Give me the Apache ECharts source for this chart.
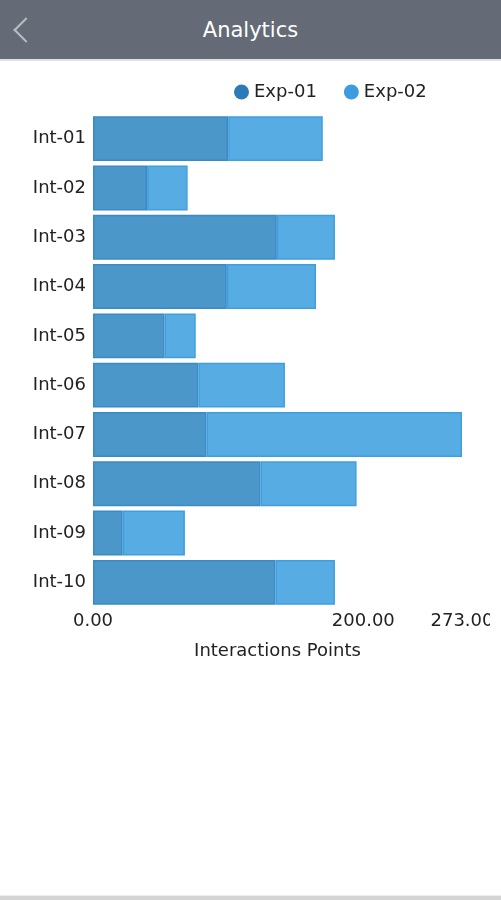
<!DOCTYPE html>
<html>
<head>
<meta charset="utf-8">
<script src="https://cdn.jsdelivr.net/npm/echarts@6/dist/echarts.min.js"></script>
<style>
  html, body { margin: 0; padding: 0; width: 501px; height: 900px; background: #fff; overflow: hidden; font-family: "DejaVu Sans", sans-serif; }
  #header { position: absolute; left: 0; top: 0; width: 501px; height: 59px; background: #646b76; border-bottom: 2px solid #dfe1e4; }
  #title { position: absolute; left: 0; width: 501px; top: 0; line-height: 60px; text-align: center; color: #fff; font-size: 21px; }
  #back { position: absolute; width: 16px; height: 16px; border-left: 2.5px solid #b9bdc3; border-bottom: 2.5px solid #b9bdc3; transform: rotate(45deg); left: 17px; top: 21px; }
  #clip { position: absolute; left: 0; top: 61px; width: 490px; height: 830px; overflow: hidden; }
  #chart { position: absolute; left: 0; top: 0; width: 501px; height: 830px; }
  #footer { position: absolute; left: 0; top: 895px; width: 501px; height: 5px; background: #d4d4d4; border-top: 1px solid #ececec; }
</style>
</head>
<body>
<div id="header"><div id="back"></div><div id="title">Analytics</div></div>
<div id="clip"><div id="chart"></div></div>
<div id="footer"></div>
<script>
const categories = ["Int-01","Int-02","Int-03","Int-04","Int-05","Int-06","Int-07","Int-08","Int-09","Int-10"];
const exp01 = [100, 40, 136, 99, 53, 78, 84, 124, 22, 135];
const exp02 = [70, 30, 43, 66, 23, 64, 189, 71, 46, 44];
const seriesNames = ["Exp-01", "Exp-02"];
const axisMax = 273;
const axisTitle = "Interactions Points";

const chart = echarts.init(document.getElementById('chart'), null, { renderer: 'canvas' });
const font = '"DejaVu Sans", sans-serif';
chart.setOption({
  animation: false,
  legend: {
    top: 17, left: 229,
    itemWidth: 15, itemHeight: 15, itemGap: 27,
    icon: 'circle',
    textStyle: { fontSize: 18, color: '#222', fontFamily: font },
    data: [
      { name: seriesNames[0], itemStyle: { color: '#2b7bb9', borderWidth: 0, opacity: 1 } },
      { name: seriesNames[1], itemStyle: { color: '#3d9be0', borderWidth: 0, opacity: 1 } }
    ]
  },
  grid: { left: 93, right: 39, top: 53, bottom: 284, containLabel: false },
  xAxis: {
    type: 'value', min: 0, max: axisMax, interval: 200,
    axisLine: { show: false }, axisTick: { show: false }, splitLine: { show: false },
    axisLabel: { fontSize: 18, color: '#222', fontFamily: font, margin: 5, formatter: v => v.toFixed(2), showMaxLabel: true },
    name: axisTitle, nameLocation: 'middle', nameGap: 35,
    nameTextStyle: { fontSize: 18, color: '#222', fontFamily: font }
  },
  yAxis: {
    type: 'category', data: categories, inverse: true,
    axisLine: { show: false }, axisTick: { show: false }, splitLine: { show: false },
    axisLabel: { fontSize: 18, color: '#222', fontFamily: font, margin: 7 }
  },
  series: [
    { name: seriesNames[0], type: 'bar', stack: 'total', data: exp01, barCategoryGap: '9%',
      itemStyle: { color: '#4c97c9', borderColor: '#3a8ac4', borderWidth: 1.5 } },
    { name: seriesNames[1], type: 'bar', stack: 'total', data: exp02, barCategoryGap: '9%',
      itemStyle: { color: '#57ade3', borderColor: '#3f9fdd', borderWidth: 1.5 } }
  ]
});
</script>
</body>
</html>
